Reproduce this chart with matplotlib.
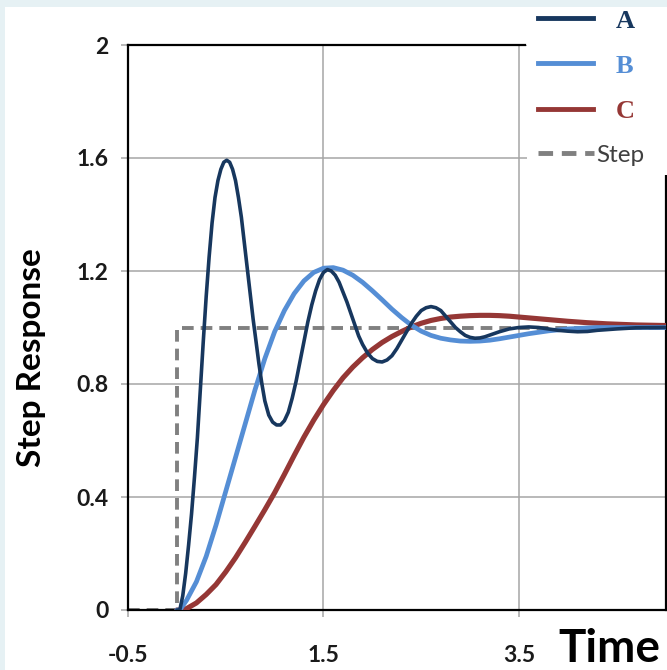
import matplotlib
matplotlib.use("Agg")
import matplotlib.pyplot as plt
from matplotlib.lines import Line2D
from matplotlib.patches import Rectangle

# Step response samples
t_a = [0.00, 0.03, 0.06, 0.09, 0.12, 0.15, 0.18, 0.21, 0.24, 0.27, 0.30, 0.33, 0.36,
       0.39, 0.42, 0.45, 0.48, 0.51, 0.54, 0.57, 0.60, 0.63, 0.66, 0.69, 0.72, 0.75,
       0.78, 0.81, 0.84, 0.87, 0.90, 0.94, 0.98, 1.02, 1.06, 1.10, 1.14, 1.18, 1.22,
       1.26, 1.30, 1.34, 1.38, 1.42, 1.46, 1.50, 1.54, 1.58, 1.62, 1.66, 1.70, 1.74,
       1.78, 1.82, 1.86, 1.90, 1.95, 2.00, 2.05, 2.10, 2.15, 2.20, 2.25, 2.30, 2.35,
       2.40, 2.45, 2.50, 2.55, 2.60, 2.65, 2.70, 2.75, 2.80, 2.85, 2.90, 2.95, 3.00,
       3.05, 3.10, 3.15, 3.20, 3.30, 3.40, 3.50, 3.60, 3.70, 3.80, 3.90, 4.00, 4.10,
       4.20, 4.30, 4.50, 4.70, 5.00]
y_a = [0.00, 0.00, 0.05, 0.13, 0.23, 0.34, 0.47, 0.61, 0.78, 0.95, 1.11, 1.25, 1.37,
       1.46, 1.52, 1.56, 1.585, 1.592, 1.585, 1.56, 1.52, 1.46, 1.39, 1.30, 1.21, 1.12,
       1.03, 0.95, 0.87, 0.80, 0.74, 0.69, 0.665, 0.655, 0.655, 0.67, 0.70, 0.75, 0.81,
       0.88, 0.95, 1.02, 1.08, 1.13, 1.17, 1.195, 1.205, 1.20, 1.185, 1.16, 1.125, 1.09,
       1.05, 1.01, 0.97, 0.94, 0.91, 0.89, 0.88, 0.878, 0.885, 0.90, 0.925, 0.955, 0.985,
       1.015, 1.04, 1.06, 1.07, 1.074, 1.07, 1.06, 1.04, 1.02, 1.00, 0.985, 0.972, 0.965,
       0.962, 0.963, 0.967, 0.973, 0.985, 0.995, 1.00, 1.002, 1.00, 0.995, 0.99, 0.987, 0.985,
       0.986, 0.99, 0.995, 0.999, 1.00]

t_b = [0.00, 0.03, 0.10, 0.20, 0.30, 0.40, 0.50, 0.60, 0.70, 0.80, 0.90, 1.00, 1.10,
       1.20, 1.30, 1.40, 1.50, 1.60, 1.70, 1.80, 1.90, 2.00, 2.10, 2.20, 2.30, 2.40,
       2.50, 2.60, 2.70, 2.80, 2.90, 3.00, 3.10, 3.20, 3.30, 3.40, 3.60, 3.80, 4.00,
       4.30, 5.00]
y_b = [0.00, 0.00, 0.035, 0.10, 0.19, 0.30, 0.42, 0.54, 0.66, 0.78, 0.89, 0.985, 1.06,
       1.12, 1.165, 1.195, 1.21, 1.212, 1.203, 1.185, 1.16, 1.13, 1.098, 1.065, 1.035, 1.008,
       0.987, 0.972, 0.962, 0.956, 0.952, 0.951, 0.952, 0.955, 0.96, 0.966, 0.978, 0.988, 0.995,
       1.00, 1.00]

t_c = [0.00, 0.05, 0.10, 0.20, 0.30, 0.40, 0.50, 0.60, 0.70, 0.80, 0.90, 1.00, 1.10,
       1.20, 1.30, 1.40, 1.50, 1.60, 1.70, 1.80, 1.90, 2.00, 2.10, 2.20, 2.30, 2.40,
       2.50, 2.60, 2.70, 2.80, 2.90, 3.00, 3.10, 3.20, 3.30, 3.40, 3.60, 3.80, 4.00,
       4.20, 4.40, 4.70, 5.00]
y_c = [0.00, 0.00, 0.005, 0.025, 0.055, 0.09, 0.135, 0.185, 0.24, 0.297, 0.355, 0.415, 0.48,
       0.547, 0.612, 0.672, 0.727, 0.777, 0.822, 0.86, 0.893, 0.922, 0.947, 0.968, 0.986, 1.002,
       1.015, 1.025, 1.032, 1.037, 1.04, 1.042, 1.043, 1.043, 1.042, 1.04, 1.034, 1.028, 1.022,
       1.017, 1.013, 1.009, 1.007]

t_step = [-0.5, 0.0, 0.0, 5.0]
y_step = [0, 0, 1, 1]

x_ticks = [-0.5, 1.5, 3.5]
y_ticks = [0, 0.4, 0.8, 1.2, 1.6, 2]
y_tick_labels = ["0", "0.4", "0.8", "1.2", "1.6", "2"]

col_a = "#17375e"
col_b = "#558ed5"
col_c = "#953735"
col_step = "#808080"
col_grid = "#a6a6a6"

W, H = 667, 670
fig = plt.figure(figsize=(W / 100, H / 100), dpi=100, facecolor="#e6f1f4")
# white page area inside the light border
fig.add_artist(Rectangle((5 / W, 0), 1, 1 - 7 / H, transform=fig.transFigure,
                         facecolor="white", edgecolor="none", zorder=-10))

ax = fig.add_axes([128 / W, 1 - 610 / H, 537.6 / W, 565 / H])
ax.set_facecolor("white")

ax.plot(t_step, y_step, color=col_step, lw=2.8, dashes=(3.0, 1.8), zorder=2)
ax.plot(t_c, y_c, color=col_c, lw=3.7, zorder=3, solid_capstyle="round", solid_joinstyle="round")
ax.plot(t_b, y_b, color=col_b, lw=3.4, zorder=4, solid_capstyle="round", solid_joinstyle="round")
ax.plot(t_a, y_a, color=col_a, lw=2.6, zorder=5, solid_capstyle="round", solid_joinstyle="round")

ax.set_xlim(-0.5, 5.0)
ax.set_ylim(0, 2)
ax.set_xticks(x_ticks)
ax.set_xticklabels([str(v) for v in x_ticks])
ax.set_yticks(y_ticks)
ax.set_yticklabels(y_tick_labels)
ax.grid(True, color=col_grid, lw=1.1, zorder=0)
ax.set_axisbelow(True)

for s in ax.spines.values():
    s.set_color("black")
    s.set_linewidth(1.6)
ax.spines["top"].set_bounds(-0.5, 3.56)
ax.spines["right"].set_bounds(0, 1.54)

ax.tick_params(axis="both", direction="out", length=5, width=1.1, color=col_grid)
ax.tick_params(axis="y", pad=9)
ax.tick_params(axis="x", pad=20)
for lab in ax.get_xticklabels() + ax.get_yticklabels():
    lab.set_fontfamily("Lato")
    lab.set_fontweight("bold")
    lab.set_fontsize(16.5)
    lab.set_color("#1a1a1a")

ax.set_ylabel("Step Response", family="Lato", weight="bold", fontsize=24)
ax.yaxis.set_label_coords(-0.152, 0.447)
fig.text(558 / W, 1 - 649 / H, "Time", family="Lato", weight="bold", fontsize=33,
         ha="left", va="center")

# white box behind the legend, it hides the top right corner of the frame
fig.add_artist(Rectangle((527 / W, 1 - 175 / H), 1, 168 / H, transform=fig.transFigure,
                         facecolor="white", edgecolor="none", zorder=3))

handles = [Line2D([], [], color=col_a, lw=3.5),
           Line2D([], [], color=col_b, lw=3.5),
           Line2D([], [], color=col_c, lw=3.5)]
leg1 = fig.legend(handles, ["A", "B", "C"], loc="center left",
                  bbox_to_anchor=(538 / W, 1 - 66 / H), frameon=False,
                  prop={"family": "Liberation Serif", "weight": "bold", "size": 19},
                  handlelength=2.1, handletextpad=0.85, labelspacing=0.82,
                  borderpad=0, borderaxespad=0)
for txt, c in zip(leg1.get_texts(), [col_a, col_b, col_c]):
    txt.set_color(c)

leg2 = fig.legend([Line2D([], [], color=col_step, lw=3.5, dashes=(3.0, 1.8))], ["Step"],
                  loc="center left", bbox_to_anchor=(538 / W, 1 - 155 / H), frameon=False,
                  prop={"family": "Lato", "size": 17.5}, handlelength=2.3,
                  handletextpad=0.1, borderpad=0, borderaxespad=0)
leg2.get_texts()[0].set_color("#404040")

fig.savefig("out.png", dpi=100, facecolor=fig.get_facecolor())
